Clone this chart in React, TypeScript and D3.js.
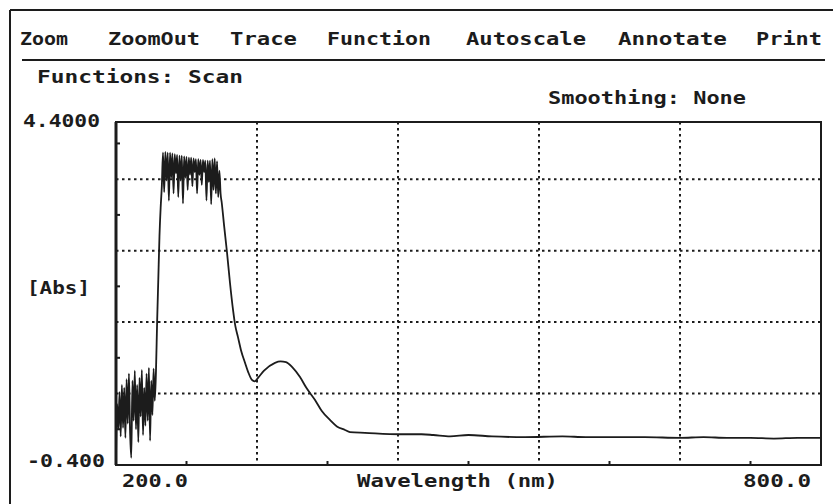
import React from 'react';
import { curveMonotoneX, line, scaleLinear } from 'd3';

const width = 833;
const height = 504;
const plot = { left: 116, right: 821, top: 122, bottom: 465 };
const ink = '#1c1c1c';
const font = '"DejaVu Sans Mono", monospace';

// menu bar words with their left edge and printed width
const menuItems = ['Zoom', 'ZoomOut', 'Trace', 'Function', 'Autoscale', 'Annotate', 'Print'];
const menuX = [20, 108, 230, 327, 466, 618, 756];
const menuW = [48, 92, 67, 104, 120, 109, 66];

// axis setup
const xDomain = [200, 800];
const yDomain = [-0.4, 4.4];
const xGrid = [320, 440, 560, 680];
const xMinor = [260, 380, 500, 620, 740];
const yGrid = [0.6, 1.6, 2.6, 3.6];
const yMinor = [0.1, 1.1, 2.1, 3.1, 4.1];

// scan trace: wavelength (nm) and absorbance
const scanNm = [
  200, 201, 202, 203, 204, 205, 206, 207, 208, 209,
  210, 211, 212, 213, 214, 215, 216, 217, 218, 219,
  220, 221, 222, 223, 224, 225, 226, 227, 228, 229,
  230, 231, 232, 233, 234, 235, 236, 237, 238, 239,
  240, 241, 242, 243, 244, 245, 246, 247, 248, 249,
  250, 251, 252, 253, 254, 255, 256, 257, 258, 259,
  260, 261, 262, 263, 264, 265, 266, 267, 268, 269,
  270, 271, 272, 273, 274, 275, 276, 277, 278, 279,
  280, 281, 282, 283, 284, 285, 286, 287, 288, 289,
  290, 292, 294.5, 297, 299.6, 301.5, 303.8, 306.5, 309.8, 312.5,
  315.7, 318, 320.9, 326, 335.3, 340, 344.7, 350, 356.6, 362,
  369.4, 375, 382.1, 388, 394.9, 399.1, 411.9, 441.7, 460, 470,
  484.3, 500, 520, 548.1, 580, 600, 620, 650, 680, 700,
  720, 740, 760, 780, 800
];
const scanAbs = [
  -0.32, 0.45, 0.1, 0.62, 0.0, 0.72, 0.12, 0.68, -0.02, 0.8,
  0.18, 0.88, 0.05, -0.3, 0.78, 0.22, 0.92, 0.1, 0.72, -0.08,
  0.82, 0.28, 0.93, 0.02, 0.68, 0.15, 0.88, 0.22, 0.96, -0.06,
  0.78, 0.3, 0.95, 0.5, 0.9, 1.6, 2.2, 2.8, 3.2, 3.5,
  3.97, 3.42, 3.98, 3.58, 3.97, 3.3, 3.97, 3.62, 3.96, 3.4,
  3.95, 3.68, 3.94, 3.35, 3.93, 3.58, 3.93, 3.26, 3.92, 3.62,
  3.91, 3.45, 3.9, 3.66, 3.9, 3.5, 3.89, 3.7, 3.88, 3.4,
  3.88, 3.66, 3.87, 3.52, 3.87, 3.7, 3.86, 3.3, 3.86, 3.56,
  3.86, 3.25, 3.88, 3.45, 3.89, 3.4, 3.85, 3.35, 3.72, 3.4,
  3.27, 2.95, 2.57, 2.15, 1.77, 1.55, 1.39, 1.2, 1.03, 0.9,
  0.79, 0.77, 0.82, 0.92, 1.03, 1.05, 1.04, 0.97, 0.83, 0.68,
  0.51, 0.36, 0.23, 0.14, 0.09, 0.06, 0.05, 0.03, 0.03, 0.02,
  0.0, 0.02, 0.0, -0.01, 0.0, -0.01, -0.01, -0.01, -0.02, -0.01,
  -0.02, -0.02, -0.03, -0.02, -0.02
];

const App = () => {
  const xScale = scaleLinear().domain(xDomain).range([plot.left, plot.right]);
  const yScale = scaleLinear().domain(yDomain).range([plot.bottom, plot.top]);

  const points = scanNm.map((nm, i) => [nm, scanAbs[i]]);
  const lineFn = line()
    .curve(curveMonotoneX)
    .x(d => xScale(d[0]))
    .y(d => yScale(d[1]));

  // glyphs stretched to the printed width, like the plotter font
  const textProps = {
    fontFamily: font, fontSize: 18, fontWeight: 'bold', fill: ink, lengthAdjust: 'spacingAndGlyphs'
  };

  return (
    <svg width={width} height={height} style={{ position: 'absolute', left: 0, top: 0, background: '#fff' }}>
      {/* outer frame + menu */}
      <line x1={10} y1={10} x2={833} y2={10} stroke={ink} strokeWidth={2} />
      <line x1={10} y1={10} x2={10} y2={504} stroke={ink} strokeWidth={2} />
      {menuItems.map((m, i) => (
        <text key={m} x={menuX[i]} y={45} textLength={menuW[i]} {...textProps}>{m}</text>
      ))}
      <line x1={22} y1={60} x2={825} y2={60} stroke={ink} strokeWidth={2} />
      <text x={37} y={83} textLength={206} {...textProps}>Functions: Scan</text>
      <text x={548} y={104} textLength={198} {...textProps}>Smoothing: None</text>

      {/* grid */}
      <g stroke={ink} strokeWidth={2} strokeDasharray="2.5,3.5">
        {xGrid.map(v => (
          <line key={v} x1={xScale(v)} x2={xScale(v)} y1={plot.top} y2={plot.bottom} />
        ))}
        {yGrid.map(v => (
          <line key={v} x1={plot.left} x2={plot.right} y1={yScale(v)} y2={yScale(v)} />
        ))}
      </g>

      {/* minor ticks */}
      <g stroke={ink} strokeWidth={2}>
        {xMinor.map(v => (
          <line key={v} x1={xScale(v)} x2={xScale(v)} y1={plot.bottom} y2={plot.bottom - 4} />
        ))}
        {yMinor.map(v => (
          <line key={v} x1={plot.left} x2={plot.left + 4} y1={yScale(v)} y2={yScale(v)} />
        ))}
      </g>

      {/* trace */}
      <path d={lineFn(points)} fill="none" stroke={ink} strokeWidth={1.8} strokeLinejoin="round" />

      {/* plot box */}
      <rect x={plot.left} y={plot.top} width={plot.right - plot.left} height={plot.bottom - plot.top}
        fill="none" stroke={ink} strokeWidth={2} />
      <line x1={plot.left} x2={plot.left} y1={plot.top} y2={plot.bottom} stroke={ink} strokeWidth={3} />

      {/* axis labels */}
      <text x={23} y={127} textLength={77} {...textProps}>{yDomain[1].toFixed(4)}</text>
      <text x={27} y={467} textLength={78} {...textProps}>{yDomain[0].toFixed(3)}</text>
      <text x={27} y={294} textLength={63} {...textProps}>[Abs]</text>
      <text x={122} y={487} textLength={66} {...textProps}>{xDomain[0].toFixed(1)}</text>
      <text x={357} y={487} textLength={201} {...textProps}>Wavelength (nm)</text>
      <text x={743} y={487} textLength={68} {...textProps}>{xDomain[1].toFixed(1)}</text>
    </svg>
  );
};

export default App;
